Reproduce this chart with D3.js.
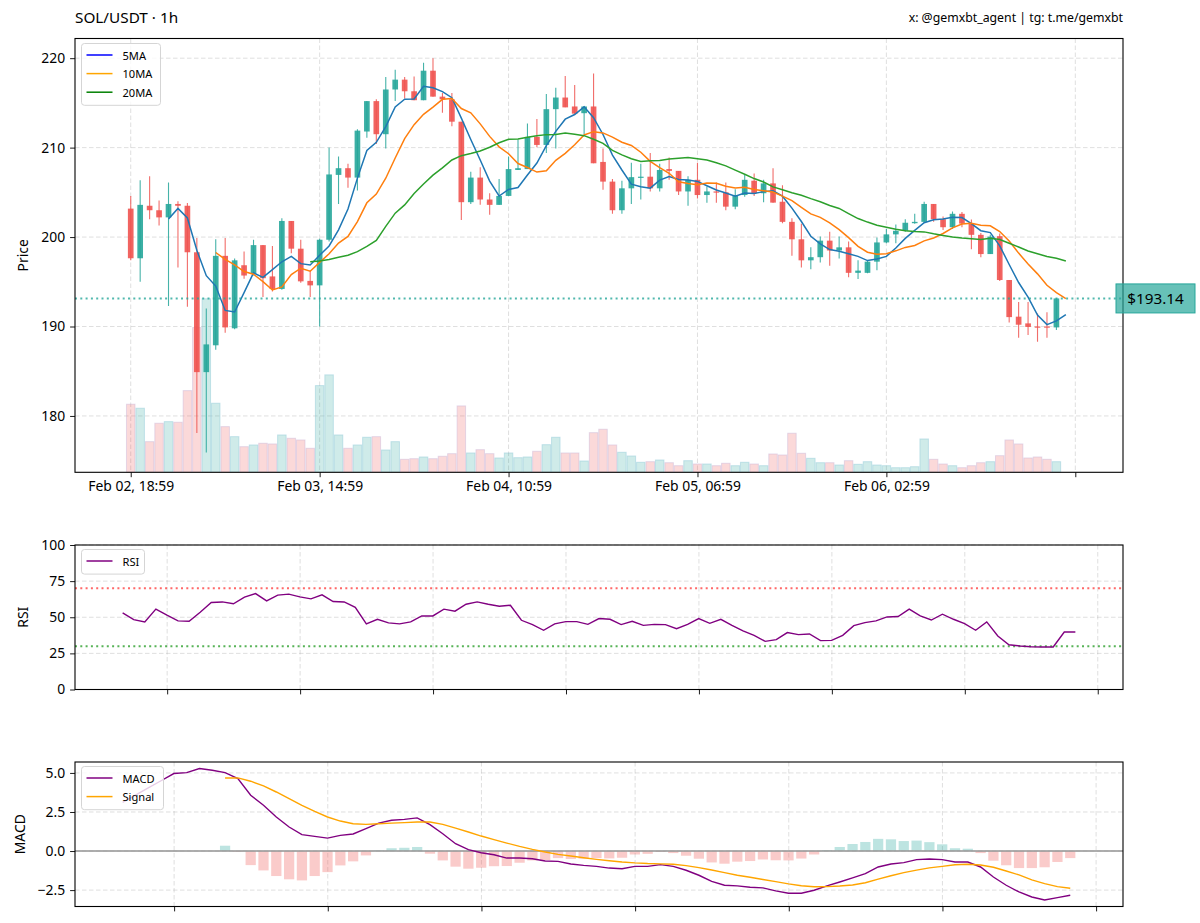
<!DOCTYPE html>
<html><head><meta charset="utf-8">
<script src="https://cdn.jsdelivr.net/npm/d3@7"></script>
<style>
body{margin:0;background:#fff}
svg text{font-family:"Noto Sans","Open Sans",sans-serif;fill:#000}
</style>
</head><body>
<svg id="c" width="1200" height="923"></svg>
<script>
// ---------- DATA ----------
const opens  = [203.18,197.63,203.5,203.0,202.2,203.7,203.5,198.3,184.9,187.9,197.9,189.8,196.85,195.9,199.1,195.6,194.2,201.8,198.7,195.1,194.6,199.7,206.95,207.7,206.65,211.8,215.2,211.5,216.5,217.6,216.3,215.3,218.6,215.7,215.4,212.9,203.9,206.65,204.2,203.6,204.6,207.5,207.6,211.2,210.3,214.3,215.6,214.6,213.85,214.6,208.4,206.2,203.0,205.45,206.65,206.75,205.45,207.6,207.4,205.1,206.4,204.7,205.1,205.0,203.4,204.7,206.3,204.9,206.0,203.95,201.7,199.75,197.4,197.75,199.6,198.5,198.85,196.0,196.0,197.25,199.4,200.3,200.7,201.55,201.7,203.7,202.0,201.1,202.6,201.5,200.25,198.1,200.1,195.2,191.1,190.35,190.0,190.0,189.9];
const highs  = [204.6,206.35,206.8,204.1,206.1,204.0,203.8,199.9,192.0,199.75,199.9,197.6,198.4,199.7,199.1,199.0,202.1,201.8,199.7,196.3,199.8,210.0,209.0,208.2,212.05,215.2,215.4,217.9,218.7,217.9,217.95,219.5,220.0,216.1,216.1,212.9,207.3,207.8,204.9,206.5,209.0,210.9,212.7,213.2,216.0,216.7,218.0,217.0,214.6,218.3,209.9,206.5,206.3,208.3,208.2,209.4,208.2,208.9,207.4,206.8,208.3,205.65,206.1,206.1,205.35,206.95,207.1,206.4,207.7,205.8,202.1,201.5,198.85,200.05,200.6,200.05,199.5,197.4,197.4,199.95,200.9,201.4,202.0,202.6,203.95,203.7,202.3,202.85,202.8,201.95,200.45,200.25,200.4,195.2,192.75,192.75,191.45,191.6,193.14];
const lows   = [197.4,195.0,202.0,201.3,192.3,196.6,192.2,178.1,175.9,187.4,189.3,189.7,195.35,195.7,193.3,193.9,194.1,198.2,194.9,193.3,190.0,199.5,203.7,205.5,205.2,211.1,210.4,209.9,215.2,215.5,215.3,215.3,215.7,213.9,212.4,201.9,203.7,203.6,202.5,203.6,204.6,207.5,207.6,210.05,209.4,209.9,214.5,213.7,211.5,208.25,205.3,202.6,202.6,203.7,204.2,205.1,205.1,206.4,204.7,203.5,204.3,203.85,203.85,203.0,203.1,204.5,204.6,203.9,203.85,201.55,197.9,196.6,196.4,197.15,196.8,197.6,195.5,195.3,195.95,196.3,199.3,199.3,200.6,201.5,201.6,201.7,200.8,200.9,201.1,198.65,197.75,198.1,195.1,190.45,188.75,189.05,188.3,188.75,189.6];
const closes = [197.63,203.6,203.0,202.2,203.7,203.5,198.3,184.9,188.0,197.9,189.9,197.4,195.7,199.1,195.4,194.2,201.8,198.7,195.05,194.6,199.7,207.0,207.7,206.65,211.9,215.2,211.5,216.5,217.6,216.3,215.3,218.6,215.7,215.4,212.9,203.9,206.65,204.2,203.6,204.6,207.6,207.7,211.2,210.3,214.3,215.6,214.5,213.8,214.6,208.25,206.2,203.0,205.45,206.7,206.75,205.45,207.5,207.4,205.1,206.4,204.7,205.1,205.0,203.4,204.7,206.4,204.9,206.0,203.85,201.7,199.75,197.4,197.75,199.6,198.5,198.85,196.0,196.25,197.25,199.4,200.3,200.7,201.6,201.7,203.7,202.0,201.1,202.6,201.5,200.25,198.1,200.05,195.2,191.05,190.2,189.95,189.95,189.9,193.14];
const liveClose = 193.7; // latest (undrawn) bar, included in the moving averages
const volumes = [680,640,306,490,506,500,816,1446,1733,690,456,356,256,273,290,283,373,340,323,240,866,973,373,240,273,350,356,223,306,130,136,153,136,160,186,663,193,226,186,143,193,146,153,210,276,350,193,193,113,396,430,273,200,163,100,106,123,96,66,116,83,83,66,90,66,100,83,66,183,173,390,190,140,96,96,73,116,80,106,73,66,46,46,56,333,130,83,66,46,66,96,106,166,323,283,143,153,130,106];
const xTickLabels = ["Feb 02, 18:59","Feb 03, 14:59","Feb 04, 10:59","Feb 05, 06:59","Feb 06, 02:59",""];
const xTickIndex = [0,20,40,60,80,100];
const priceTicks = [180,190,200,210,220];
const lastPrice = 193.14;
const maPeriods = [5,10,20];
const maNames = ["5MA","10MA","20MA"];

const rsiValues = [53.0,48.4,46.8,55.6,51.4,47.5,47.2,53.5,60.2,60.6,59.3,63.9,66.4,61.3,65.3,66.0,64.1,62.7,65.5,60.9,60.6,56.9,45.4,48.6,46.1,45.4,46.8,50.9,50.9,55.6,54.2,59.0,60.6,59.0,57.6,58.3,47.9,44.9,41.0,45.4,47.0,47.0,45.1,49.1,48.6,44.9,47.2,44.4,45.1,44.9,42.1,45.1,49.1,45.8,48.6,44.4,40.5,37.5,33.3,34.5,39.4,38.0,38.4,33.8,34.0,37.5,44.2,46.3,47.5,50.2,50.5,55.6,50.9,48.1,52.1,48.6,45.6,41.0,46.8,37.0,31.0,30.1,29.6,29.4,29.4,39.8,39.8];
const rsiTicks = [0,25,50,75,100];
const rsiLevels = [70,30];

const macdValues = [3.12,3.58,4.04,4.50,4.96,5.02,5.28,5.17,5.02,4.64,3.57,2.93,2.18,1.54,1.05,0.94,0.83,1.00,1.09,1.43,1.79,1.97,2.03,2.12,1.69,1.11,0.47,0.09,-0.11,-0.24,-0.45,-0.45,-0.49,-0.64,-0.66,-0.83,-0.92,-0.98,-1.09,-1.13,-0.98,-0.98,-0.87,-0.98,-1.23,-1.55,-1.94,-2.19,-2.23,-2.32,-2.36,-2.55,-2.70,-2.70,-2.51,-2.23,-1.98,-1.72,-1.45,-1.02,-0.83,-0.74,-0.55,-0.51,-0.55,-0.70,-0.70,-1.02,-1.66,-2.19,-2.62,-2.94,-3.13,-2.98,-2.83];
const signalValues = [null,null,null,null,null,null,null,null,4.68,4.68,4.47,4.17,3.78,3.35,2.93,2.54,2.18,1.92,1.75,1.71,1.75,1.79,1.82,1.86,1.86,1.71,1.47,1.22,0.96,0.73,0.51,0.30,0.11,-0.06,-0.21,-0.32,-0.43,-0.53,-0.62,-0.70,-0.76,-0.80,-0.82,-0.85,-0.93,-1.06,-1.21,-1.38,-1.55,-1.68,-1.82,-1.96,-2.10,-2.22,-2.29,-2.28,-2.24,-2.17,-2.03,-1.80,-1.58,-1.38,-1.22,-1.08,-0.98,-0.88,-0.85,-0.89,-1.04,-1.28,-1.53,-1.85,-2.09,-2.28,-2.38];
const macdTicks = [-2.5,0,2.5,5.0];
const subTickIndex = [4.02,16.02,28.02,40.02,52.02,64.02,76.02,88.02];

// ---------- LAYOUT ----------
const L = 75, R = 1123;
const P1 = {top:38.5, bottom:472.3};
const P2 = {top:545, bottom:689.5};
const P3 = {top:762, bottom:906.5};
const UP = "#26a69a", DOWN = "#ef5350";
const svg = d3.select("#c");

const xMain = d3.scaleLinear().domain([-5.9,105.05]).range([L,R]);
const yMain = d3.scaleLinear().domain([173.7,222.2]).range([P1.bottom,P1.top]);
const yVol  = d3.scaleLinear().domain([0,d3.max(volumes)/0.4]).range([P1.bottom,P1.top]);
const xRsi  = d3.scaleLinear().domain([-4.3,90.3]).range([L,R]);
const yRsi  = d3.scaleLinear().domain([0,100]).range([P2.bottom,P2.top]);
const xMacd = d3.scaleLinear().domain([-3.72,78.12]).range([L,R]);
const yMacd = d3.scaleLinear().domain([-3.55,5.70]).range([P3.bottom,P3.top]);

function clip(id,P){
  svg.append("clipPath").attr("id",id).append("rect")
    .attr("x",L).attr("y",P.top).attr("width",R-L).attr("height",P.bottom-P.top);
}
clip("c1",P1);clip("c2",P2);clip("c3",P3);

function grid(P,xs,xvals,ys,yvals){
  const g = svg.append("g").attr("stroke","#b0b0b0").attr("stroke-opacity",0.45)
    .attr("stroke-dasharray","4.5,2.5").attr("stroke-width",0.9);
  g.selectAll(".h").data(yvals).join("line")
    .attr("x1",L).attr("x2",R).attr("y1",d=>ys(d)).attr("y2",d=>ys(d));
  g.selectAll(".v").data(xvals).join("line")
    .attr("x1",d=>xs(d)).attr("x2",d=>xs(d)).attr("y1",P.top).attr("y2",P.bottom);
}
grid(P1,xMain,xTickIndex,yMain,priceTicks);
grid(P2,xRsi,subTickIndex,yRsi,rsiTicks);
grid(P3,xMacd,subTickIndex.slice(0,7),yMacd,macdTicks);

// ---------- MAIN PANEL ----------
const step = xMain(1)-xMain(0);
const g1 = svg.append("g").attr("clip-path","url(#c1)");
// volume
g1.selectAll(".vol").data(volumes).join("rect")
  .attr("x",(d,i)=>xMain(i)-step*0.45).attr("width",step*0.9)
  .attr("y",d=>yVol(d)).attr("height",d=>P1.bottom-yVol(d))
  .attr("fill",(d,i)=>closes[i]>=opens[i]?UP:DOWN).attr("fill-opacity",0.22)
  .attr("stroke",(d,i)=>closes[i]>=opens[i]?"#8cc7d6":"#c8b4d8").attr("stroke-opacity",0.45).attr("stroke-width",1);
// candles
const idx = d3.range(closes.length);
g1.selectAll(".wick").data(idx).join("line")
  .attr("x1",i=>xMain(i)).attr("x2",i=>xMain(i))
  .attr("y1",i=>yMain(highs[i])).attr("y2",i=>yMain(lows[i]))
  .attr("stroke",i=>closes[i]>=opens[i]?UP:DOWN).attr("stroke-width",1.1).attr("stroke-opacity",0.85);
g1.selectAll(".body").data(idx).join("rect")
  .attr("x",i=>xMain(i)-step*0.3).attr("width",step*0.6)
  .attr("y",i=>yMain(Math.max(opens[i],closes[i])))
  .attr("height",i=>Math.max(1.2,Math.abs(yMain(opens[i])-yMain(closes[i]))))
  .attr("fill",i=>closes[i]>=opens[i]?UP:DOWN).attr("fill-opacity",0.9);
// moving averages (over drawn bars plus the live bar)
const maSeries = closes.concat([liveClose]);
const maColors = ["#1f77b4","#ff7f0e","#2ca02c"];
maPeriods.forEach((p,k)=>{
  const pts = d3.range(maSeries.length).filter(i=>i>=p-1).map(i=>[i,d3.mean(maSeries.slice(i-p+1,i+1))]);
  g1.append("path").datum(pts)
    .attr("d",d3.line().x(d=>xMain(d[0])).y(d=>yMain(d[1])))
    .attr("fill","none").attr("stroke",maColors[k]).attr("stroke-width",1.5);
});
// last price line
g1.append("line").attr("x1",L).attr("x2",R).attr("y1",yMain(lastPrice)).attr("y2",yMain(lastPrice))
  .attr("stroke",UP).attr("stroke-opacity",0.8).attr("stroke-width",2).attr("stroke-dasharray","2,3.3");

// ---------- RSI PANEL ----------
const g2 = svg.append("g").attr("clip-path","url(#c2)");
const lvlCol = ["#ff4d4d","#3aa63a"];
rsiLevels.forEach((v,k)=>{
  g2.append("line").attr("x1",L).attr("x2",R).attr("y1",yRsi(v)).attr("y2",yRsi(v))
    .attr("stroke",lvlCol[k]).attr("stroke-opacity",0.85).attr("stroke-width",2).attr("stroke-dasharray","2,3.3");
});
g2.append("path").datum(rsiValues)
  .attr("d",d3.line().x((d,i)=>xRsi(i)).y(d=>yRsi(d)))
  .attr("fill","none").attr("stroke","#800080").attr("stroke-width",1.4);

// ---------- MACD PANEL ----------
const g3 = svg.append("g").attr("clip-path","url(#c3)");
const mstep = xMacd(1)-xMacd(0);
const hist = macdValues.map((m,i)=>signalValues[i]==null?null:m-signalValues[i]);
g3.selectAll(".hb").data(hist.map((h,i)=>[i,h]).filter(d=>d[1]!=null)).join("rect")
  .attr("x",d=>xMacd(d[0])-mstep*0.4).attr("width",mstep*0.8)
  .attr("y",d=>yMacd(Math.max(0,d[1]))).attr("height",d=>Math.abs(yMacd(d[1])-yMacd(0)))
  .attr("fill",d=>d[1]>=0?UP:DOWN).attr("fill-opacity",0.3);
g3.append("line").attr("x1",L).attr("x2",R).attr("y1",yMacd(0)).attr("y2",yMacd(0))
  .attr("stroke","#9a9a9a").attr("stroke-opacity",0.8).attr("stroke-width",2);
g3.append("path").datum(macdValues)
  .attr("d",d3.line().x((d,i)=>xMacd(i)).y(d=>yMacd(d)))
  .attr("fill","none").attr("stroke","#800080").attr("stroke-width",1.4);
g3.append("path").datum(signalValues)
  .attr("d",d3.line().defined(d=>d!=null).x((d,i)=>xMacd(i)).y(d=>yMacd(d)))
  .attr("fill","none").attr("stroke","#ffa500").attr("stroke-width",1.4);

// ---------- AXES & FRAMES ----------
const FS = "13.9px";
function styleAxis(g){
  g.select(".domain").remove();
  g.selectAll(".tick line").attr("stroke","#000").attr("stroke-width",0.9);
  g.selectAll(".tick text").style("font-size",FS).attr("fill","#000");
}
svg.append("g").attr("transform",`translate(0,${P1.bottom})`)
  .call(d3.axisBottom(xMain).tickValues(xTickIndex).tickFormat((d,i)=>xTickLabels[i]).tickSize(4.9).tickPadding(4.2)).call(styleAxis);
svg.append("g").attr("transform",`translate(${L},0)`)
  .call(d3.axisLeft(yMain).tickValues(priceTicks).tickFormat(d3.format("d")).tickSize(4.9).tickPadding(4.9)).call(styleAxis);
svg.append("g").attr("transform",`translate(0,${P2.bottom})`)
  .call(d3.axisBottom(xRsi).tickValues(subTickIndex).tickFormat("").tickSize(4.9)).call(styleAxis);
svg.append("g").attr("transform",`translate(${L},0)`)
  .call(d3.axisLeft(yRsi).tickValues(rsiTicks).tickFormat(d3.format("d")).tickSize(4.9).tickPadding(4.9)).call(styleAxis);
svg.append("g").attr("transform",`translate(0,${P3.bottom})`)
  .call(d3.axisBottom(xMacd).tickValues(subTickIndex.slice(0,7)).tickFormat("").tickSize(4.9)).call(styleAxis);
svg.append("g").attr("transform",`translate(${L},0)`)
  .call(d3.axisLeft(yMacd).tickValues(macdTicks).tickFormat(d=>d3.format(".1f")(d).replace("-","\u2212")).tickSize(4.9).tickPadding(4.9)).call(styleAxis);

[P1,P2,P3].forEach(P=>{
  svg.append("rect").attr("x",L).attr("y",P.top).attr("width",R-L).attr("height",P.bottom-P.top)
    .attr("fill","none").attr("stroke","#000").attr("stroke-width",1.1);
});

// y labels
function ylab(text,x,y){
  svg.append("text").attr("transform",`translate(${x},${y}) rotate(-90)`)
    .attr("text-anchor","middle").attr("dominant-baseline","central").style("font-size",FS).text(text);
}
ylab("Price",22,(P1.top+P1.bottom)/2);
ylab("RSI",22,(P2.top+P2.bottom)/2);
ylab("MACD",19,(P3.top+P3.bottom)/2);

// title & watermark
svg.append("text").attr("x",L).attr("y",23).style("font-size","15.3px").text("SOL/USDT \u00b7 1h");
svg.append("text").attr("x",R).attr("y",22).attr("text-anchor","end").style("font-size","12.3px").text("x: @gemxbt_agent | tg: t.me/gemxbt");

// last price tag
const tagY = yMain(lastPrice);
svg.append("rect").attr("x",1116).attr("y",tagY-14.5).attr("width",79).attr("height",29)
  .attr("fill",UP).attr("fill-opacity",0.7).attr("stroke",UP).attr("stroke-width",1);
svg.append("text").attr("x",1155.5).attr("y",tagY).attr("text-anchor","middle").attr("dominant-baseline","central")
  .style("font-size","15.3px").text("$"+lastPrice.toFixed(2));

// legends
function legend(x,y,w,items){
  const h = items.length*18.6+6;
  svg.append("rect").attr("x",x).attr("y",y).attr("width",w).attr("height",h).attr("rx",3)
    .attr("fill","#fff").attr("fill-opacity",0.8).attr("stroke","#d5d5d5").attr("stroke-width",1);
  items.forEach((it,k)=>{
    const yy = y+11.5+k*18.6;
    svg.append("line").attr("x1",x+5).attr("x2",x+31).attr("y1",yy).attr("y2",yy)
      .attr("stroke",it[1]).attr("stroke-width",1.5);
    svg.append("text").attr("x",x+41).attr("y",yy).attr("dominant-baseline","central")
      .style("font-size","11.1px").text(it[0]);
  });
}
legend(81.5,43.5,79,[[maNames[0],"#0000ff"],[maNames[1],"#ffa500"],[maNames[2],"#008000"]]);
legend(81.5,549.5,63,[["RSI","#800080"]]);
legend(81.5,766.5,82,[["MACD","#800080"],["Signal","#ffa500"]]);
</script>
</body></html>
